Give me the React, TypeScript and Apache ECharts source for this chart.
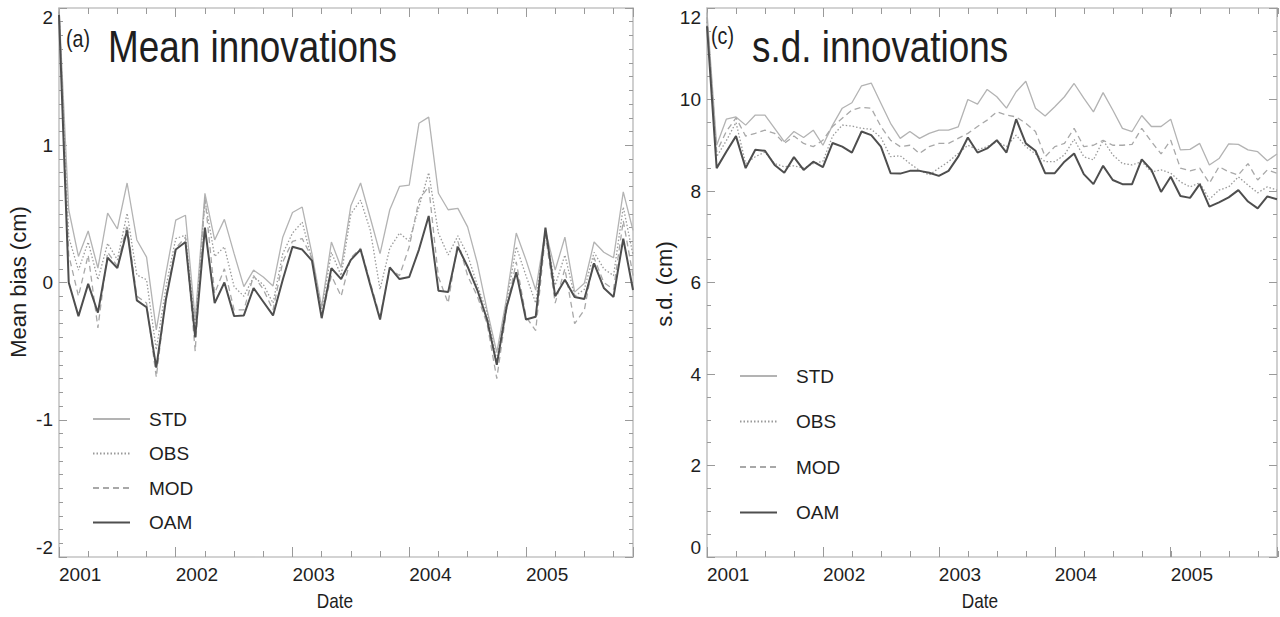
import React, { useEffect, useRef } from 'react';
import * as echarts from 'echarts';

// Monthly time axis, Jan 2001 .. Dec 2005, in decimal years
const START_YEAR = 2001;
const MONTH_COUNT = 60;
const months: number[] = Array.from({ length: MONTH_COUNT }, (_, i) => START_YEAR + i / 12);
const X_MIN = START_YEAR;
const X_MAX = months[months.length - 1];

const seriesNames = ['STD', 'OBS', 'MOD', 'OAM'];

// (a) Mean innovations, cm
const meanSTD = [
  2.0, 0.53, 0.19, 0.375, 0.105, 0.505, 0.39, 0.725, 0.31, 0.185, -0.345, 0.07,
  0.455, 0.49, -0.27, 0.65, 0.31, 0.46, 0.21, -0.03, 0.09, 0.04, -0.025, 0.33,
  0.51, 0.55, 0.21, -0.18, 0.295, 0.11, 0.56, 0.725, 0.47, 0.21, 0.53, 0.7,
  0.71, 1.16, 1.205, 0.65, 0.53, 0.54, 0.405, 0.14, -0.2, -0.51, -0.115, 0.36,
  0.165, -0.055, 0.38, 0.09, 0.33, -0.07, -0.005, 0.295, 0.22, 0.18, 0.66, 0.38,
];
const meanOBS = [
  1.97, 0.33, 0.09, 0.295, 0.02, 0.285, 0.165, 0.505, 0.055, 0.02, -0.49, -0.03,
  0.32, 0.345, -0.32, 0.6, 0.19, 0.26, -0.03, -0.1, 0.04, -0.015, -0.15, 0.21,
  0.36, 0.44, 0.165, -0.2, 0.22, 0.05, 0.5, 0.6, 0.38, -0.05, 0.25, 0.36,
  0.3, 0.55, 0.8, 0.36, 0.2, 0.34, 0.2, -0.02, -0.22, -0.57, -0.15, 0.26,
  0.05, -0.15, 0.38, -0.02, 0.2, -0.1, -0.05, 0.22, 0.1, 0.05, 0.55, 0.2,
];
const meanMOD = [
  1.98, 0.2, -0.1, 0.2, -0.33, 0.22, 0.12, 0.42, -0.1, -0.15, -0.69, -0.1,
  0.25, 0.33, -0.5, 0.62, -0.08, 0.1, -0.2, -0.2, 0.05, -0.05, -0.2, 0.15,
  0.3, 0.32, 0.18, -0.25, 0.05, -0.1, 0.18, 0.25, 0.0, -0.25, 0.1, 0.05,
  0.26, 0.6, 0.7, 0.04, -0.15, 0.3, 0.05, -0.1, -0.3, -0.7, -0.2, 0.15,
  -0.25, -0.35, 0.35, -0.15, 0.1, -0.3, -0.2, 0.18, 0.0, -0.05, 0.45, 0.05,
];
const meanOAM = [
  1.95, 0.0, -0.245, -0.01, -0.22, 0.18, 0.105, 0.38, -0.13, -0.18, -0.62, -0.12,
  0.24, 0.295, -0.4, 0.4, -0.15, 0.0, -0.245, -0.24, -0.04, -0.14, -0.24, 0.02,
  0.26, 0.24, 0.16, -0.26, 0.105, 0.025, 0.165, 0.24, -0.02, -0.27, 0.11, 0.025,
  0.04, 0.24, 0.485, -0.06, -0.07, 0.26, 0.115, -0.055, -0.27, -0.6, -0.18, 0.075,
  -0.27, -0.25, 0.4, -0.1, 0.02, -0.105, -0.12, 0.14, -0.04, -0.105, 0.32, -0.055,
];

// (c) s.d. innovations, cm
const sdSTD = [
  11.9, 9.0, 9.57, 9.62, 9.44, 9.66, 9.66, 9.37, 9.08, 9.3, 9.17, 9.33,
  9.0, 9.44, 9.81, 9.93, 10.3, 10.36, 9.92, 9.48, 9.15, 9.3, 9.15, 9.26,
  9.33, 9.33, 9.4, 10.0, 9.9, 10.22, 10.06, 9.81, 10.17, 10.4, 9.81, 9.64,
  9.84, 10.06, 10.35, 10.03, 9.73, 10.15, 9.77, 9.37, 9.3, 9.65, 9.41, 9.41,
  9.57, 8.9, 8.91, 9.04, 8.57, 8.71, 9.03, 9.02, 8.9, 8.86, 8.66, 8.81,
];
const sdOBS = [
  11.7, 8.75, 9.1, 9.5, 8.6, 8.75, 8.85, 8.6, 8.53, 8.55, 8.5, 8.6,
  8.65, 9.2, 9.44, 9.42, 9.37, 9.35, 9.17, 8.75, 8.77, 8.6, 8.45, 8.35,
  8.5, 8.64, 8.82, 9.0, 8.9, 8.97, 9.08, 8.97, 9.22, 8.97, 8.81, 8.64,
  8.64, 8.79, 9.13, 8.75, 8.68, 9.11, 8.79, 8.6, 8.57, 8.64, 8.42, 8.46,
  8.39, 8.2, 8.09, 8.18, 7.82, 8.02, 8.09, 8.31, 8.13, 7.96, 8.09, 8.02,
];
const sdMOD = [
  11.8, 8.86, 9.3, 9.6, 9.2, 9.26, 9.33, 9.26, 9.04, 9.2, 9.04, 8.97,
  9.11, 9.41, 9.59, 9.77, 9.83, 9.81, 9.41, 9.11, 8.97, 9.0, 8.82, 8.97,
  9.04, 9.04, 9.15, 9.26, 9.41, 9.55, 9.73, 9.66, 9.62, 9.48, 9.3, 8.75,
  8.97, 9.04, 9.37, 8.97, 9.0, 9.11, 9.0, 9.0, 9.02, 9.37, 9.08, 8.81,
  9.11, 8.5, 8.44, 8.5, 8.17, 8.53, 8.42, 8.35, 8.6, 8.24, 8.46, 8.39,
];
const sdOAM = [
  11.6, 8.5, 8.86, 9.2, 8.5, 8.9, 8.88, 8.57, 8.4, 8.74, 8.46, 8.64,
  8.52, 9.05, 8.97, 8.84, 9.3, 9.22, 8.97, 8.39, 8.38, 8.44, 8.44, 8.4,
  8.33, 8.44, 8.75, 9.17, 8.84, 8.93, 9.11, 8.84, 9.57, 9.04, 8.88, 8.39,
  8.39, 8.64, 8.82, 8.37, 8.15, 8.55, 8.24, 8.15, 8.15, 8.69, 8.46, 7.98,
  8.31, 7.89, 7.85, 8.15, 7.66, 7.75, 7.86, 8.02, 7.77, 7.62, 7.88, 7.82,
];

const FONT = "'Liberation Sans', Arial, sans-serif";
const NARROW_SCALE = 0.82; // condensed look for horizontal lettering
const TEXT = '#1e1e1e';
const FRAME = '#c4c4c4';
const TICK = '#9a9a9a';

const lineStyles: Record<string, any> = {
  STD: { color: '#b3b3b3', width: 1.3, type: 'solid' },
  OBS: { color: '#9a9a9a', width: 1.3, type: [1.5, 2] },
  MOD: { color: '#a8a8a8', width: 1.3, type: [6, 4] },
  OAM: { color: '#4e4e4e', width: 2, type: 'solid' },
};

const yearLabel = (v: number) => (Math.abs(v - Math.round(v)) < 1e-6 ? String(Math.round(v)) : '');

function panelAxes(mainGrid: number, minorGrid: number) {
  const base = { type: 'value', min: X_MIN, max: X_MAX, splitLine: { show: false } };
  const line = { show: true, onZero: false, lineStyle: { color: FRAME, width: 1.6 } };
  return [
    {
      ...base, gridIndex: mainGrid, position: 'bottom', interval: 1,
      axisLine: line,
      axisTick: { show: true, inside: true, length: 10, lineStyle: { color: TICK, width: 1 } },
      axisLabel: { show: true, align: 'left', margin: 8, fontSize: 19, fontFamily: FONT, color: TEXT, formatter: yearLabel },
    },
    {
      ...base, gridIndex: mainGrid, position: 'top', interval: 1,
      axisLine: line,
      axisTick: { show: true, inside: true, length: 9, lineStyle: { color: TICK, width: 1 } },
      axisLabel: { show: false },
    },
    {
      ...base, gridIndex: minorGrid, position: 'bottom', interval: 0.25,
      axisLine: { show: false, onZero: false },
      axisTick: { show: true, inside: true, length: 6, lineStyle: { color: TICK, width: 1 } },
      axisLabel: { show: false },
    },
    {
      ...base, gridIndex: minorGrid, position: 'top', interval: 0.25,
      axisLine: { show: false, onZero: false },
      axisTick: { show: true, inside: true, length: 6, lineStyle: { color: TICK, width: 1 } },
      axisLabel: { show: false },
    },
  ];
}

function panelYAxes(mainGrid: number, minorGrid: number, min: number, max: number, interval: number, minorSplit: number) {
  const base = {
    type: 'value', gridIndex: mainGrid, min, max, interval,
    splitLine: { show: false },
    axisLine: { show: true, onZero: false, lineStyle: { color: FRAME, width: 1.6 } },
    axisTick: { show: true, inside: true, length: 8, lineStyle: { color: TICK, width: 1 } },
    minorTick: { show: true, splitNumber: minorSplit, length: 4, lineStyle: { color: TICK, width: 1 } },
    minorSplitLine: { show: false },
  };
  return [
    {
      ...base, position: 'left',
      axisLabel: {
        show: true, margin: 6, fontSize: 19, fontFamily: FONT, color: TEXT,
        verticalAlignMinLabel: 'bottom', verticalAlignMaxLabel: 'top',
      },
    },
    { ...base, position: 'right', axisLabel: { show: false } },
    { type: 'value', gridIndex: minorGrid, min, max, show: false },
  ];
}

function panelSeries(xAxisIndex: number, yAxisIndex: number, values: number[][]) {
  return seriesNames.map((name, k) => ({
    type: 'line',
    name,
    xAxisIndex,
    yAxisIndex,
    symbol: 'none',
    z: 2 + k,
    lineStyle: lineStyles[name],
    itemStyle: { color: lineStyles[name].color },
    data: months.map((m, i) => [m, values[k][i]]),
  }));
}

function legendAt(left: number, top: number, gap: number) {
  return {
    orient: 'vertical', left, top, padding: 0, itemGap: gap,
    itemWidth: 37, itemHeight: 14, selectedMode: false,
    itemStyle: { color: 'transparent', borderColor: 'transparent', borderWidth: 0 },
    textStyle: { fontFamily: FONT, fontSize: 19, lineHeight: 20, color: TEXT, padding: [0, 0, 0, 14] },
    data: seriesNames,
  };
}

// Horizontal lettering, squeezed to a condensed width
const squeezedText = (x: number, y: number, text: string, size: number, align = 'left') => ({
  type: 'text', x, y, scaleX: NARROW_SCALE, silent: true,
  style: { text, fontSize: size, fontFamily: FONT, fill: TEXT, align, verticalAlign: 'middle' },
});

const rotatedText = (x: number, y: number, text: string, size: number) => ({
  type: 'text', x, y, rotation: Math.PI / 2, silent: true,
  style: { text, fontSize: size, fontFamily: FONT, fill: TEXT, align: 'center', verticalAlign: 'middle' },
});

export default function App() {
  const ref = useRef<HTMLDivElement>(null);

  useEffect(() => {
    if (!ref.current) return;
    const chart = echarts.init(ref.current, undefined, { renderer: 'svg' });
    const leftRect = { left: 59, right: 647, top: 8, bottom: 60 };
    const rightRect = { left: 707, right: 2, top: 8, bottom: 60 };

    chart.setOption({
      animation: false,
      backgroundColor: '#ffffff',
      grid: [leftRect, leftRect, rightRect, rightRect].map((r) => ({ ...r, containLabel: false })),
      xAxis: [...panelAxes(0, 1), ...panelAxes(2, 3)],
      yAxis: [...panelYAxes(0, 1, -2, 2, 1, 10), ...panelYAxes(2, 3, 0, 12, 2, 4)],
      legend: [legendAt(92, 409, 14.5), legendAt(739, 366, 25.5)],
      series: [
        ...panelSeries(0, 0, [meanSTD, meanOBS, meanMOD, meanOAM]),
        ...panelSeries(4, 3, [sdSTD, sdOBS, sdMOD, sdOAM]),
      ],
      graphic: [
        squeezedText(66, 39, '(a)', 24),
        squeezedText(108, 47, 'Mean innovations', 45),
        squeezedText(711, 36, '(c)', 24),
        squeezedText(752, 47, 's.d. innovations', 45),
        rotatedText(18, 282, 'Mean bias (cm)', 22),
        rotatedText(664, 284, 's.d. (cm)', 22),
        squeezedText(335, 601, 'Date', 21, 'center'),
        squeezedText(980, 601, 'Date', 21, 'center'),
      ],
    });

    return () => chart.dispose();
  }, []);

  return (
    <div
      ref={ref}
      style={{ position: 'absolute', left: 0, top: 0, width: 1280, height: 617, background: '#fff' }}
    />
  );
}
